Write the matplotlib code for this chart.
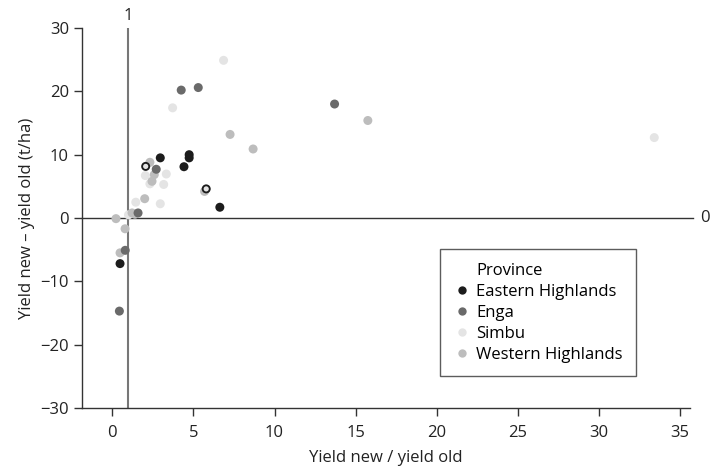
import matplotlib
matplotlib.use("Agg")
import matplotlib.pyplot as plt
from matplotlib.lines import Line2D

plt.rcParams['font.family'] = ['Open Sans', 'DejaVu Sans']

provinces = ['Eastern Highlands', 'Enga', 'Simbu', 'Western Highlands']
colors = {'Eastern Highlands': '#1c1c1c', 'Enga': '#6a6a6a',
          'Simbu': '#e4e4e4', 'Western Highlands': '#bdbdbd'}

# ratio (new/old) and difference (new - old, t/ha) per province
eastern_x = [2.96, 4.74, 4.74, 4.42, 2.06, 5.79, 6.63, 0.48]
eastern_y = [9.5, 10.0, 9.5, 8.1, 8.15, 4.6, 1.7, -7.2]
enga_x = [4.25, 5.3, 13.7, 2.71, 1.59, 0.8, 0.44]
enga_y = [20.2, 20.6, 18.0, 7.7, 0.8, -5.1, -14.7]
simbu_x = [6.86, 3.72, 2.04, 3.33, 2.32, 3.17, 1.45, 2.96, 1.0, 33.4]
simbu_y = [24.9, 17.4, 6.7, 6.95, 5.4, 5.3, 2.5, 2.25, 0.5, 12.7]
western_x = [7.26, 8.68, 2.32, 2.59, 2.45, 5.69, 2.0, 1.22, 0.23, 0.79, 0.48, 15.75, 1.4]
western_y = [13.2, 10.9, 8.8, 6.85, 5.8, 4.2, 3.05, 0.8, -0.1, -1.7, -5.5, 15.4, 0.6]
# two eastern points drawn with a light centre in the original
ring_x = [2.06, 5.79]
ring_y = [8.15, 4.6]

series = {
    'Eastern Highlands': (eastern_x, eastern_y),
    'Enga': (enga_x, enga_y),
    'Simbu': (simbu_x, simbu_y),
    'Western Highlands': (western_x, western_y),
}

fs = 12
fig = plt.figure(figsize=(7.15, 4.72), dpi=100)
ax = fig.add_axes([0.115, 0.1356, 0.85, 0.805])

for name in ['Simbu', 'Western Highlands', 'Enga', 'Eastern Highlands']:
    x, y = series[name]
    ax.scatter(x, y, s=42, color=colors[name], edgecolors='none', zorder=3)
ax.scatter(ring_x, ring_y, s=14, color=colors['Simbu'], edgecolors='none', zorder=4)

xmin, xmax = -1.85, 35.6
ax.set_xlim(xmin, xmax)
ax.set_ylim(-30, 30)

ax.axvline(1, color='#777777', lw=1.5, zorder=2)
ax.plot([xmin, 35.8], [0, 0], color='#333333', lw=1, clip_on=False, zorder=2)
ax.text(1, 30.6, '1', ha='center', va='bottom', fontsize=fs, color='#222222')
ax.text(36.25, 0, '0', ha='left', va='center', fontsize=fs, color='#222222',
        clip_on=False)

ax.set_xticks([0, 5, 10, 15, 20, 25, 30, 35])
ax.set_yticks([-30, -20, -10, 0, 10, 20, 30])
ax.set_yticklabels(['\u221230', '\u221220', '\u221210', '0', '10', '20', '30'])
for s in ['top', 'right']:
    ax.spines[s].set_visible(False)
for s in ['left', 'bottom']:
    ax.spines[s].set_color('#333333')
    ax.spines[s].set_linewidth(1)
ax.tick_params(colors='#333333', labelcolor='#222222', labelsize=fs,
               length=6, width=1)
ax.tick_params(axis='x', pad=6)
ax.set_xlabel('Yield new / yield old', fontsize=fs, color='#222222', labelpad=7)
ax.set_ylabel('Yield new \u2013 yield old (t/ha)', fontsize=fs, color='#222222',
              labelpad=4)

handles = [Line2D([], [], linestyle='none', marker='', label='Province')]
for name in provinces:
    handles.append(Line2D([], [], linestyle='none', marker='o', markersize=6,
                          markerfacecolor=colors[name], markeredgecolor='none',
                          label=name))
leg = ax.legend(handles=handles, loc='upper left', bbox_to_anchor=(0.589, 0.418),
                fontsize=fs, frameon=True, fancybox=False, handlelength=1.0,
                handletextpad=0.36, labelspacing=0.3, borderpad=0.8,
                borderaxespad=0)
leg.get_frame().set_edgecolor('#333333')
leg.get_frame().set_linewidth(1)

fig.savefig('out.png', dpi=100)
